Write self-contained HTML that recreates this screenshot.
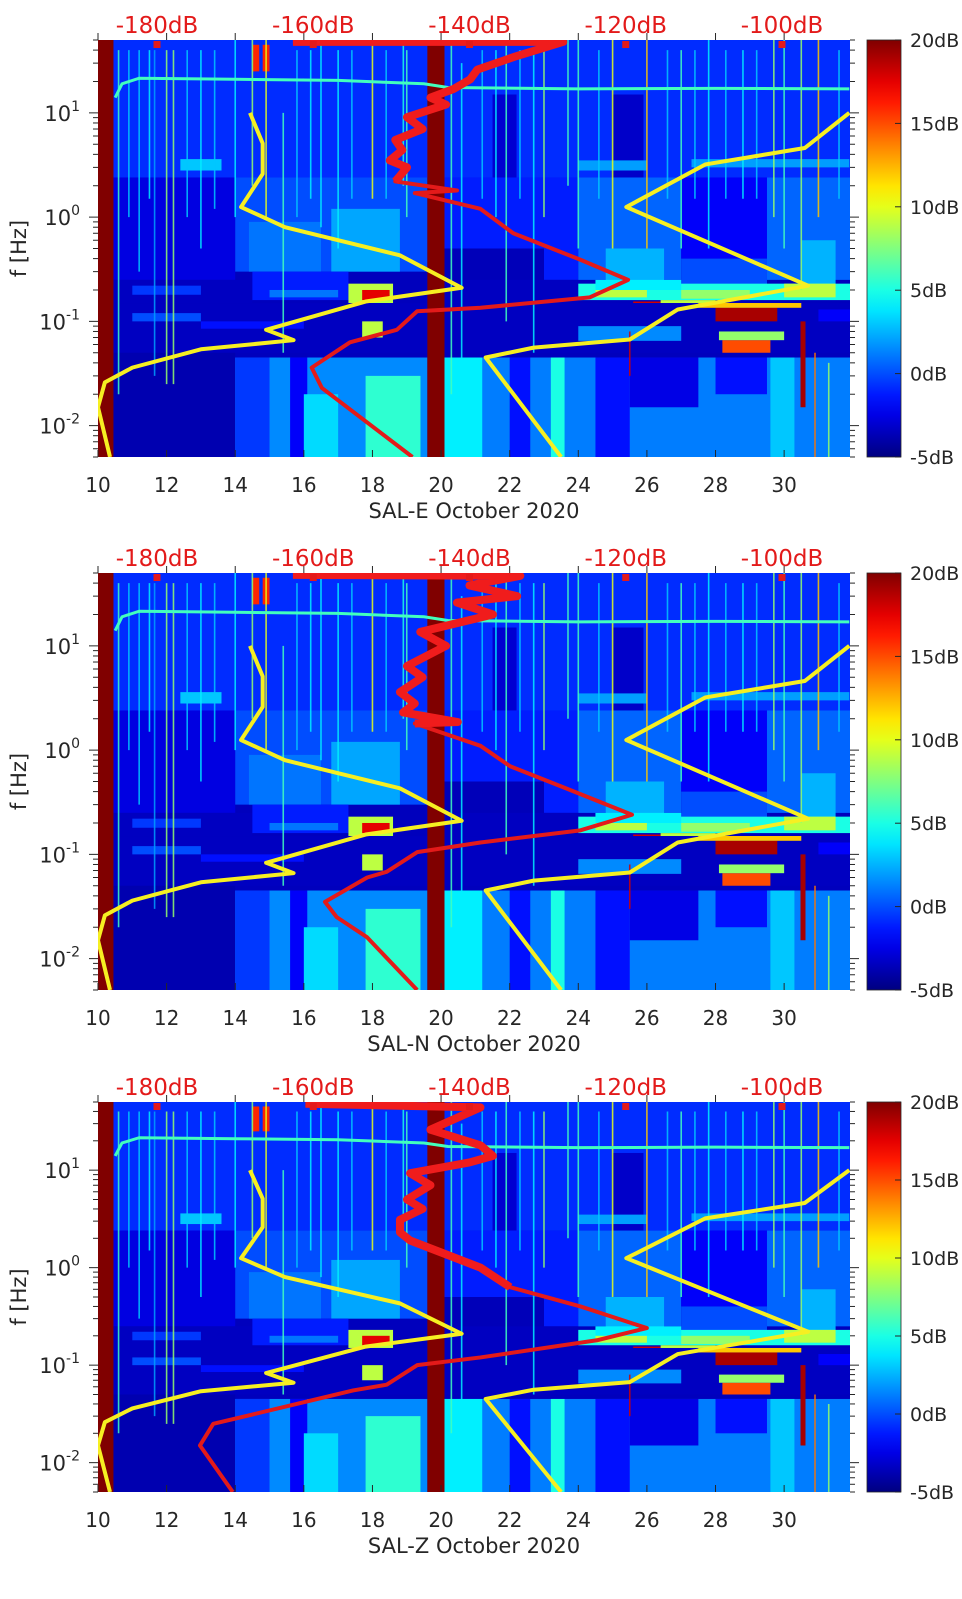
<!DOCTYPE html>
<html><head><meta charset="utf-8"><title>SAL spectrograms</title>
<style>
html,body{margin:0;padding:0;background:#fff;}
svg{display:block;font-family:"DejaVu Sans","Liberation Sans",sans-serif;}
</style></head>
<body>
<svg id="fig" width="962" height="1599" viewBox="0 0 962 1599" xmlns="http://www.w3.org/2000/svg"></svg>
<script>
// ---------- data ----------
const dayTicks = [10,12,14,16,18,20,22,24,26,28,30];
const dbTicks = [-180,-160,-140,-120,-100];
const cbTicks = [-5,0,5,10,15,20];
const freqDecades = [1,0,-1,-2];
const stations = ["SAL-E","SAL-N","SAL-Z"];
// yellow reference curves [day, Hz]
const yellowLeftDay = [14.43,14.8,14.8,14.17,15.45,18.8,20.6,17.8,14.9,15.7,13.0,11.0,10.2,10.0,10.35];
const yellowLeftF   = [10,5.1,2.6,1.25,0.8,0.43,0.21,0.155,0.083,0.066,0.054,0.036,0.026,0.015,0.005];
const yellowRightDay = [31.9,30.6,27.7,25.4,30.7,26.9,25.5,22.7,21.3,23.5];
const yellowRightF   = [10,4.6,3.2,1.25,0.22,0.13,0.067,0.056,0.045,0.005];
// red spectra [dB, Hz] per station
const redE_dB = [-162.6,-128,-134,-139,-139.9,-142,-145,-143,-148,-146,-149.5,-148.6,-150.2,-148,-149.5,-141.6,-147,-138.6,-134.4,-125.8,-119.7,-124.6,-138.6,-146.7,-149.3,-155.3,-160.2,-158.9,-147.3];
const redE_f  = [48,48,35,26,21,17,14,12,9.1,7,5.5,4.4,3.5,3,2.2,1.8,1.7,1.2,0.7,0.39,0.25,0.17,0.135,0.125,0.083,0.063,0.036,0.023,0.005];
const redN_dB = [-162.6,-133.5,-140,-133.9,-141.6,-137,-146.3,-143,-148,-146,-148.9,-147,-148.5,-141.5,-147,-138.6,-134.8,-128,-119.2,-125.8,-138.6,-146.7,-150.6,-153.1,-158.5,-157,-153.1,-146.7];
const redN_f  = [48,47,38,30,26,20,13.6,10,6.4,5,3.6,2.8,2.3,1.86,1.8,1.1,0.7,0.44,0.24,0.17,0.13,0.105,0.068,0.06,0.035,0.025,0.016,0.005];
const redZ_dB = [-161,-138.6,-145,-138.6,-137,-140,-147.6,-145,-148,-146,-148.9,-148.9,-147.6,-138.6,-134.8,-125.8,-117.3,-123.7,-138.6,-146.7,-150.6,-154.9,-172.8,-174.5,-170.3];
const redZ_f  = [48,44,26,18,14,12,9.3,7,5,4,3.1,2.3,1.9,1.0,0.63,0.4,0.24,0.18,0.12,0.1,0.063,0.055,0.025,0.015,0.005];
// spectrogram patches [day0, day1, f0, f1, dB]
const patches = [
 [10,32,0.005,50,-3.5],
 [10.45,32,2.4,50,-0.8],
 [21.5,22.2,2.4,15,-3],[25,25.9,2.4,15,-3.2],[12.4,13.6,2.8,3.6,3],[24,26,2.8,3.5,2],[27.3,31.9,3.0,3.6,2],
 [10.45,14,0.25,2.4,-2.6],
 [14,19.6,0.3,2.4,0],
 [16.8,18.8,0.3,1.2,2.2],[14.4,16.5,0.3,0.9,1],
 [20.1,24,0.25,2.4,-1.2],[20.1,23,0.2,0.5,-3.6],
 [24,27,0.25,2.4,0.6],[24.8,26.5,0.22,0.5,2.5],
 [27,29.5,0.4,2.4,-2],[27,29.5,0.22,0.4,0],
 [29.5,32,0.25,2.4,0.6],[30.5,31.5,0.22,0.6,2.5],
 [10.45,14.5,0.15,0.25,-3.4],[11,13,0.18,0.22,-0.5],
 [14.5,17.3,0.16,0.3,-1.2],[15,17,0.17,0.2,1],
 [17.3,18.6,0.15,0.23,9],[17.7,18.5,0.16,0.2,17.5],
 [20.1,24,0.13,0.25,-3.4],
 [24,32,0.16,0.23,5],[24.5,26,0.17,0.21,9],[27,29,0.165,0.2,8],[30,31.5,0.17,0.23,9],[24.5,27,0.2,0.25,4],
 [25.6,26.4,0.13,0.155,18],[26.4,28,0.14,0.16,9],
 [10.45,32,0.05,0.15,-3.4],[11,13,0.1,0.12,0],[13,16,0.085,0.1,-1.5],
 [17.7,18.3,0.07,0.1,9],
 [28,29.8,0.1,0.135,19],[27.5,30.5,0.135,0.15,12],
 [28.2,29.6,0.05,0.066,15],[28.1,30,0.066,0.08,8],
 [24,27,0.065,0.09,1.5],[31,32,0.1,0.13,-2],
 [10.45,14,0.005,0.05,-3.8],
 [14,19.6,0.005,0.045,1.5],[14,15,0.005,0.045,-0.5],[15.6,16.1,0.005,0.045,-2],[17.8,19.4,0.005,0.03,5.5],[16,17,0.005,0.02,3.5],
 [20.1,32,0.005,0.045,1.2],[20.1,21.2,0.005,0.045,4],[22,22.6,0.005,0.045,-1.5],[23.2,23.6,0.005,0.045,5],
 [24.5,25.5,0.005,0.045,-1.5],[25.5,27.5,0.015,0.045,-2.5],[28,29.5,0.02,0.045,-1.5],[29.6,30.3,0.005,0.045,3],
 [10,10.45,0.005,50,20],[19.6,20.1,0.005,50,20],
 [14.5,14.7,25,45,16],[14.8,15.0,25,45,16]
];
// vertical streaks [day, f0, f1, dB]
const streaks = [
 [10.6,0.02,40,6],[11.2,0.3,40,3],[11.65,0.03,40,2],[12.0,0.025,40,8],[12.2,0.025,40,8],[13.0,0.5,40,4],
 [14.0,1,50,4],[14.5,2,50,8],[14.9,1,50,10],[15.4,0.05,10,6],[16.5,0.8,50,4],[17.0,0.5,40,4],
 [18.0,1.5,50,10],[18.9,2,50,5],[19.0,1,40,6],[20.3,0.02,50,6],[20.6,0.03,30,4],[21.9,0.1,50,6],
 [22.7,0.05,40,4],[23.0,1,40,8],[23.7,2,50,6],[24.0,0.5,50,6],[25.0,0.5,50,10],[25.5,0.03,0.08,18],
 [26.0,0.5,50,12],[27.0,0.5,40,6],[27.8,0.5,50,4],[29.7,1,50,8],[30.0,0.5,50,6],
 [30.5,0.2,50,8],[30.9,0.005,0.05,14],[31.0,1,50,12],[31.3,0.005,0.04,8],
 [10.9,1,40,3],[11.5,1.5,40,4],[12.6,1,40,3],[13.4,1.2,40,3],[15.8,1,40,3],[16.2,1.5,40,4],
 [17.4,1.5,40,3],[18.4,1.5,40,3],[21.2,1.5,40,3],[21.6,1,40,4],[22.3,1.5,40,3],[24.6,1.5,40,3],
 [26.6,1.5,40,3],[27.4,1.5,40,3],[28.3,1.5,40,3],[28.8,1.5,40,4],[29.2,1.5,40,3],[31.6,1.5,40,3]
];
// wide dark-red column [day, f0, f1, dB]
const wideStreakDay = [30.55];
const wideStreakF0 = [0.015];
const wideStreakF1 = [0.1];
const wideStreakDb = [19];
// 20 Hz noise line [day, Hz]
const lineDay = [10.5,10.7,11.2,14,17,19.5,20.2,24,28,31.9];
const lineF   = [14,19,21.5,21,20.5,19,17.5,17,17.2,17];

// ---------- helpers ----------
const NS = "http://www.w3.org/2000/svg";
const svg = document.getElementById("fig");
const X0 = 98, X1 = 850, DMIN = 10, DMAX = 31.92;
const LFMAX = Math.log10(50), LFMIN = Math.log10(0.005);
function xDay(d){ return X0 + (d - DMIN) / (DMAX - DMIN) * (X1 - X0); }
function xDb(db){ return 157 + (db + 180) * 7.8125; }
function yF(P, f){ return P.top + (LFMAX - Math.log10(f)) / (LFMAX - LFMIN) * P.h; }
function cl(v){ return Math.max(0, Math.min(1, v)); }
function jet(db){
  const t = cl((db + 5) / 25);
  const r = cl(Math.min(4*t-1.5, -4*t+4.5)), g = cl(Math.min(4*t-0.5, -4*t+3.5)), b = cl(Math.min(4*t+0.5, -4*t+2.5));
  return "rgb(" + Math.round(r*255) + "," + Math.round(g*255) + "," + Math.round(b*255) + ")";
}
function mk(tag, attrs, parent){
  const e = document.createElementNS(NS, tag);
  for (const k in attrs) e.setAttribute(k, attrs[k]);
  (parent || svg).appendChild(e);
  return e;
}

const panels = [
  {top:40, h:417, name:stations[0], rdb:redE_dB, rf:redE_f},
  {top:573, h:417, name:stations[1], rdb:redN_dB, rf:redN_f},
  {top:1102, h:390, name:stations[2], rdb:redZ_dB, rf:redZ_f}
];

// jet gradient
const defs = mk("defs", {});
const grad = mk("linearGradient", {id:"jet", x1:"0", y1:"1", x2:"0", y2:"0"}, defs);
for (let i = 0; i <= 20; i++) {
  mk("stop", {offset: (i/20), "stop-color": jet(-5 + 25*i/20)}, grad);
}

panels.forEach(function(P, pi){
  const g = mk("g", {});
  
  
  const cp = mk("clipPath", {id:"clip"+pi}, defs);
  mk("rect", {x:X0, y:P.top, width:X1-X0, height:P.h}, cp);
  const hm = mk("g", {"clip-path":"url(#clip"+pi+")"}, g);
  
  
  patches.forEach(function(p){
    const r = mk("rect", {x:xDay(p[0]), y:yF(P,p[3]), width:xDay(p[1])-xDay(p[0]), height:yF(P,p[2])-yF(P,p[3]), fill:jet(p[4])}, hm);
    
    
  });
  streaks.forEach(function(s){
    const l = mk("line", {x1:xDay(s[0]), x2:xDay(s[0]), y1:yF(P,s[2]), y2:yF(P,s[1]), stroke:jet(s[3]), "stroke-width":1.6, opacity:0.85}, hm);
    
    
  });
  wideStreakDay.forEach(function(d, i){
    const l = mk("line", {x1:xDay(d), x2:xDay(d), y1:yF(P,wideStreakF1[i]), y2:yF(P,wideStreakF0[i]), stroke:jet(wideStreakDb[i]), "stroke-width":5}, hm);
    
    
  });
  const nl = mk("polyline", {points: lineDay.map(function(d,i){return xDay(d)+","+yF(P,lineF[i]);}).join(" "), fill:"none", stroke:jet(6), "stroke-width":3}, hm);
  
  

  [[yellowLeftDay,yellowLeftF],[yellowRightDay,yellowRightF]].forEach(function(c, ci){
    const pl = mk("polyline", {points: c[0].map(function(d,i){return xDay(d)+","+yF(P,c[1][i]);}).join(" "), fill:"none", stroke:"#f6ef22", "stroke-width":4, "stroke-linejoin":"round"}, hm);
    
    
  });
  const rp = mk("polyline", {points: P.rdb.map(function(db,i){return xDb(db)+","+yF(P,P.rf[i]);}).join(" "), fill:"none", stroke:"#e31a1a", "stroke-width":4, "stroke-linejoin":"round"}, hm);
  
  
  const topN = P.rdb.length > 20 ? 15 : 12;
  const rp2 = mk("polyline", {points: P.rdb.slice(0, topN).map(function(db,i){return xDb(db)+","+yF(P,P.rf[i]);}).join(" "), fill:"none", stroke:"#f01c1c", "stroke-width":8, "stroke-linejoin":"round"}, hm);
  
  

  dbTicks.forEach(function(db){
    const m = mk("rect", {x:xDb(db)-3.5, y:P.top+1, width:7, height:7, fill:"#e31a1a"}, g);
    
    
  });

  dayTicks.forEach(function(d){
    const x = xDay(d);
    mk("line", {x1:x, x2:x, y1:P.top+P.h, y2:P.top+P.h-7, stroke:"#262626", "stroke-width":1}, g);
    mk("line", {x1:x, x2:x, y1:P.top, y2:P.top-7, stroke:"#262626", "stroke-width":1}, g);
    const t = mk("text", {x:x, y:P.top+P.h+35, "text-anchor":"middle", "font-size":20, fill:"#262626"}, g);
    t.textContent = d;
    
    
  });
  for (let e = -3; e <= 1; e++) {
    for (let m = 1; m <= 9; m++) {
      const f = m * Math.pow(10, e);
      if (f < 0.005 || f > 50) continue;
      const y = yF(P, f), len = m === 1 ? 9 : 5;
      mk("line", {x1:X0-len, x2:X0, y1:y, y2:y, stroke:"#262626", "stroke-width":1}, g);
      mk("line", {x1:X1, x2:X1+len, y1:y, y2:y, stroke:"#262626", "stroke-width":1}, g);
    }
  }
  freqDecades.forEach(function(e){
    const y = yF(P, Math.pow(10, e));
    const t = mk("text", {x:80, y:y+8, "text-anchor":"end", "font-size":21, fill:"#262626"}, g);
    
    
    t.appendChild(document.createTextNode("10"));
    const sp = mk("tspan", {dy:-10, "font-size":14}, t);
    sp.textContent = String(e);
  });
  dbTicks.forEach(function(db){
    const t = mk("text", {x:xDb(db), y:P.top-7, "text-anchor":"middle", "font-size":23, fill:"#e31a1a"}, g);
    t.textContent = db + "dB";
    
    
  });
  const yl = mk("text", {x:0, y:0, transform:"translate(26," + (P.top+P.h/2) + ") rotate(-90)", "text-anchor":"middle", "font-size":21, fill:"#262626"}, g);
  yl.textContent = "f [Hz]";
  
  
  const xl = mk("text", {x:474, y:P.top+P.h+61, "text-anchor":"middle", "font-size":21, fill:"#262626"}, g);
  xl.textContent = P.name + " October 2020";
  
  

  const cb = mk("rect", {x:867, y:P.top, width:34, height:P.h, fill:"url(#jet)", stroke:"#262626", "stroke-width":0.8}, g);
  
  
  cbTicks.forEach(function(v){
    const y = P.top + P.h - (v + 5) / 25 * P.h;
    mk("line", {x1:895, x2:901, y1:y, y2:y, stroke:"#262626", "stroke-width":1}, g);
    const t = mk("text", {x:910, y:y+7, "font-size":19, fill:"#262626"}, g);
    t.textContent = v + "dB";
    
    
  });
});
</script>
</body></html>
